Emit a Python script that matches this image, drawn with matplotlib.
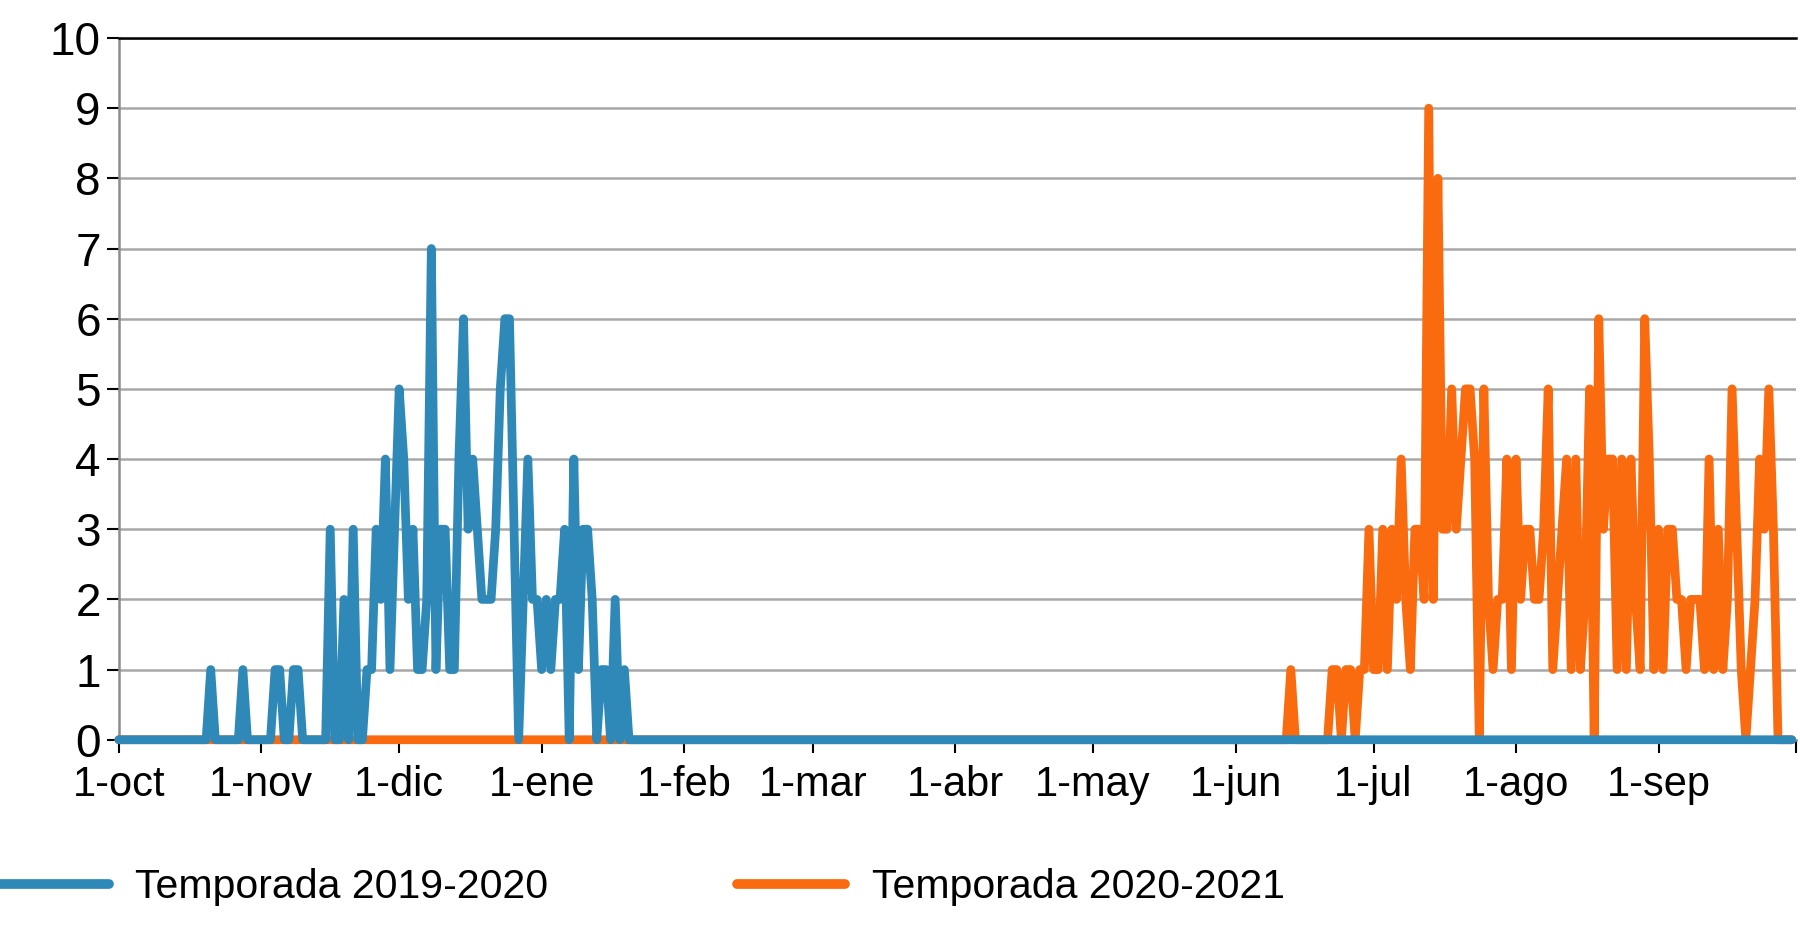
"""Casos diarios por temporada: 2019-2020 frente a 2020-2021."""

import matplotlib

matplotlib.use("Agg")
import matplotlib.pyplot as plt
from matplotlib.lines import Line2D
import numpy as np

plt.rcParams["font.family"] = ["Liberation Sans Narrow", "Liberation Sans", "DejaVu Sans"]

# Días de la temporada (1-oct = día 0); fuera de los tramos dados el valor es 0
SEASON_DAYS = 365

BLUE_LABEL = "Temporada 2019-2020"
BLUE_FIRST_DAY = 20
BLUE_VALUES = [
    1, 0, 0, 0, 0, 0, 0, 1, 0, 0, 0, 0, 0, 0, 1, 1, 0, 0, 1, 1,   # 20-39
    0, 0, 0, 0, 0, 0, 3, 0, 0, 2, 0, 3, 0, 0, 1, 1, 3, 2, 4, 1,   # 40-59
    3, 5, 4, 2, 3, 1, 1, 2, 7, 1, 3, 3, 1, 1, 4, 6, 3, 4, 3, 2,   # 60-79
    2, 2, 3, 5, 6, 6, 3, 0, 2, 4, 2, 2, 1, 2, 1, 2, 2, 3, 0, 4,   # 80-99
    1, 3, 3, 2, 0, 1, 1, 0, 2, 0, 1, 0,                           # 100-111
]

ORANGE_LABEL = "Temporada 2020-2021"
ORANGE_FIRST_DAY = 255
ORANGE_VALUES = [
    1, 0, 0, 0, 0, 0, 0, 0, 0, 1, 1, 0, 1, 1, 0, 1, 1, 3, 1, 1,   # 255-274
    3, 1, 3, 2, 4, 2, 1, 3, 3, 2, 9, 2, 8, 3, 3, 5, 3, 4, 5, 5,   # 275-294
    4, 0, 5, 2, 1, 2, 2, 4, 1, 4, 2, 3, 3, 2, 2, 3, 5, 1, 2, 3,   # 295-314
    4, 1, 4, 1, 2, 5, 0, 6, 3, 4, 4, 1, 4, 1, 4, 2, 1, 6, 4, 1,   # 315-334
    3, 1, 3, 3, 2, 2, 1, 2, 2, 2, 1, 4, 1, 3, 1, 2, 5, 3, 1, 0,   # 335-354
    1, 2, 4, 3, 5, 3, 0,                                          # 355-361
]

MONTH_LABELS = ["1-oct", "1-nov", "1-dic", "1-ene", "1-feb", "1-mar",
                "1-abr", "1-may", "1-jun", "1-jul", "1-ago", "1-sep", ""]
MONTH_LENGTHS = [31, 30, 31, 31, 28, 31, 30, 31, 30, 31, 31, 30]

BLUE = "#2E89B9"
ORANGE = "#F96B0E"
GRID_GREY = "#A8A8A8"


def full_season(first_day, values):
    series = np.zeros(SEASON_DAYS)
    series[first_day:first_day + len(values)] = values
    return series


days = np.arange(SEASON_DAYS)
blue_series = full_season(BLUE_FIRST_DAY, BLUE_VALUES)
orange_series = full_season(ORANGE_FIRST_DAY, ORANGE_VALUES)
month_ticks = np.concatenate([[0], np.cumsum(MONTH_LENGTHS)])

fig = plt.figure(figsize=(18, 9.27), dpi=100, facecolor="white")
ax = fig.add_axes((0.066, 0.202, 0.932, 0.757))

line_style = dict(linewidth=6.3, solid_joinstyle="round", solid_capstyle="round", clip_on=False)
ax.plot(days, orange_series, color=ORANGE, zorder=3, **line_style)
ax.plot(days, blue_series, color=BLUE, zorder=4, **line_style)

ax.set_xlim(0, SEASON_DAYS)
ax.set_ylim(0, 10)
ax.set_yticks(range(0, 11))
ax.set_xticks(month_ticks)
ax.set_xticklabels(MONTH_LABELS)

ax.yaxis.grid(True, color=GRID_GREY, linewidth=1.8)
ax.set_axisbelow(True)
ax.tick_params(axis="y", direction="out", length=9, width=1.5, color="black",
               labelsize=33, pad=4)
ax.tick_params(axis="x", direction="out", length=9, width=1.5, color="black",
               labelsize=30, pad=9)

ax.spines["right"].set_visible(False)
ax.spines["top"].set_color("black")
ax.spines["top"].set_linewidth(1.8)
for side in ("left", "bottom"):
    ax.spines[side].set_color("#8C8C8C")
    ax.spines[side].set_linewidth(1.8)

handles = [
    Line2D([], [], color=BLUE, linewidth=7, solid_capstyle="round"),
    Line2D([], [], color=ORANGE, linewidth=7, solid_capstyle="round"),
]
fig.legend(handles, [BLUE_LABEL, ORANGE_LABEL], loc="center left",
           bbox_to_anchor=(0.0, 0.043), ncol=2, frameon=False, fontsize=29.5,
           handlelength=2.65, handletextpad=0.65, columnspacing=4.6, borderaxespad=0,
           borderpad=0)

fig.savefig("out.png", dpi=100, facecolor="white")
